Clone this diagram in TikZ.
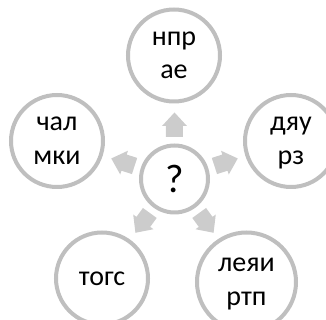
\documentclass[tikz,border=0pt]{standalone}
\usepackage{fontspec}
\setmainfont{Carlito}
\definecolor{ringgray}{HTML}{BFBFBF}
\definecolor{arrowgray}{HTML}{CCCCCC}
\newcommand\ringtext[2]{\raisebox{#1}{\begin{tabular}{@{}c@{}}#2\end{tabular}}}
\tikzset{
  ring/.style={circle,draw=ringgray,line width=3pt,fill=white,inner sep=0pt,minimum size=#1*0.75pt,font=\fontsize{21}{25}\selectfont,text=black},
  blockarrow/.style={fill=arrowgray,draw=none}
}
\begin{document}
\begin{tikzpicture}[x=0.75pt,y=-0.75pt]
\useasboundingbox (0,0) rectangle (326,320);
\clip (0,0) rectangle (326,320);
\coordinate (c) at (174.5,179);
\foreach \a in {90,18,162,-54,234}{
  \fill[blockarrow,shift={(c)},rotate=\a-90]
    (0,-66.5) -- (12.5,-53) -- (8.5,-53) -- (8.5,-42) -- (-8.5,-42) -- (-8.5,-53) -- (-12.5,-53) -- cycle;
}
\node[ring=67] (q) at (c) {\fontsize{30}{32}\selectfont ?};
\node[ring=92] (t) at (174,55.5) {\ringtext{-5pt}{нпр\\ае}};
\node[ring=92] (r) at (291,141) {\ringtext{-2.6pt}{дяу\\рз}};
\node[ring=92] (l) at (57,141) {\ringtext{-2.6pt}{чал\\мки}};
\node[ring=92] (bl) at (102,278.5) {\ringtext{-1pt}{тогс}};
\node[ring=99] (br) at (246.5,282) {\ringtext{-1pt}{леяи\\ртп}};
\end{tikzpicture}
\end{document}
